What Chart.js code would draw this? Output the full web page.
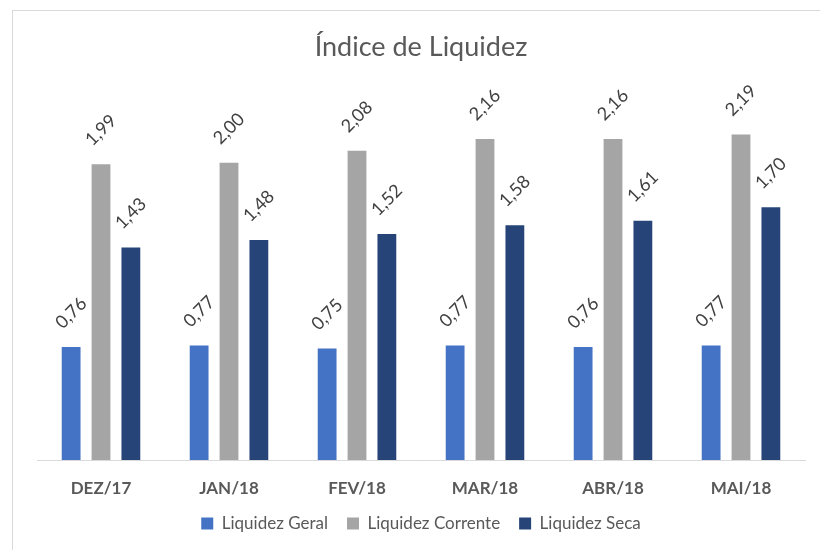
<!DOCTYPE html>
<html>
<head>
<meta charset="utf-8">
<script src="https://cdn.jsdelivr.net/npm/chart.js@4"></script>
<style>
  html, body { margin: 0; padding: 0; background: #fff; overflow: hidden; }
  #wrap { position: relative; width: 820px; height: 550px; }
  #frame { position: absolute; left: 12px; top: 10px; width: 820px; height: 560px; border: 1px solid #d9d9d9; box-sizing: border-box; }
  canvas { position: absolute; left: 0; top: 0; }
</style>
</head>
<body>
<div id="wrap">
  <div id="frame"></div>
  <canvas id="liqChart" width="820" height="550"></canvas>
</div>
<script>
var meses = ['DEZ/17', 'JAN/18', 'FEV/18', 'MAR/18', 'ABR/18', 'MAI/18'];
var liquidezGeral = [0.76, 0.77, 0.75, 0.77, 0.76, 0.77];
var liquidezCorrente = [1.99, 2.00, 2.08, 2.16, 2.16, 2.19];
var liquidezSeca = [1.43, 1.48, 1.52, 1.58, 1.61, 1.70];

var fonte = 'Lato, "Open Sans", sans-serif';

// rotulos inclinados em cima das barras
var rotulos = {
  id: 'rotulos',
  afterDatasetsDraw: function(chart) {
    var ctx = chart.ctx;
    ctx.save();
    ctx.font = '18px ' + fonte;
    ctx.fillStyle = '#404040';
    ctx.textAlign = 'center';
    ctx.textBaseline = 'middle';
    chart.data.datasets.forEach(function(ds, i) {
      chart.getDatasetMeta(i).data.forEach(function(bar, j) {
        var txt = ds.data[j].toFixed(2).replace('.', ',');
        ctx.save();
        ctx.translate(bar.x, bar.y - 34);
        ctx.rotate(-Math.PI / 4);
        ctx.fillText(txt, 0, 0);
        ctx.restore();
      });
    });
    ctx.restore();
  }
};

var ctx = document.getElementById('liqChart').getContext('2d');
var liqChart = new Chart(ctx, {
  type: 'bar',
  data: {
    labels: meses,
    datasets: [
      { label: 'Liquidez Geral', data: liquidezGeral, backgroundColor: '#4472C4' },
      { label: 'Liquidez Corrente', data: liquidezCorrente, backgroundColor: '#A5A5A5' },
      { label: 'Liquidez Seca', data: liquidezSeca, backgroundColor: '#264478' }
    ]
  },
  options: {
    responsive: false,
    animation: false,
    categoryPercentage: 0.70,
    barPercentage: 0.63,
    layout: { padding: { left: 37, right: 15, top: 0, bottom: 8 } },
    plugins: {
      title: {
        display: true,
        text: 'Índice de Liquidez',
        color: '#595959',
        font: { family: fonte, size: 27, weight: 'normal' },
        padding: { top: 31, bottom: 25 }
      },
      legend: {
        position: 'bottom',
        labels: {
          color: '#595959',
          font: { family: fonte, size: 17 },
          boxWidth: 12,
          boxHeight: 12,
          padding: 19
        }
      },
      tooltip: { enabled: false }
    },
    scales: {
      x: {
        grid: { display: false, drawTicks: false },
        border: { display: true, color: '#d9d9d9', width: 1 },
        ticks: {
          color: '#595959',
          font: { family: fonte, size: 17, weight: 'bold' },
          padding: 18
        },
        afterFit: function(scale) { scale.height = 36; }
      },
      y: {
        display: false,
        min: 0,
        max: 2.5
      }
    }
  },
  plugins: [rotulos]
});
</script>
</body>
</html>
